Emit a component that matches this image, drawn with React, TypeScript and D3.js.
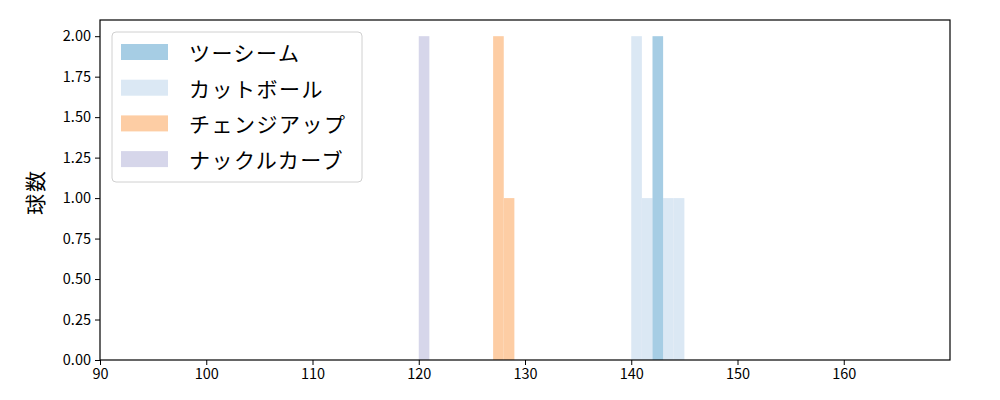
import { useEffect, useRef } from "react";
import * as d3 from "d3";

type Bin = { x0: number; x1: number; count: number };

const pitchNames = ["ツーシーム", "カットボール", "チェンジアップ", "ナックルカーブ"];
const pitchColors = ["#a6cde4", "#dbe8f4", "#fdcda4", "#d6d6ea"];

const twoSeamBins: Bin[] = [{ x0: 142, x1: 143, count: 2 }];
const cutBins: Bin[] = [
  { x0: 140, x1: 141, count: 2 },
  { x0: 141, x1: 142, count: 1 },
  { x0: 142, x1: 143, count: 1 },
  { x0: 143, x1: 144, count: 1 },
  { x0: 144, x1: 145, count: 1 },
];
const changeBins: Bin[] = [
  { x0: 127, x1: 128, count: 2 },
  { x0: 128, x1: 129, count: 1 },
];
const knuckleBins: Bin[] = [{ x0: 120, x1: 121, count: 2 }];

const xTicks = [90, 100, 110, 120, 130, 140, 150, 160];
const yTicks = [0, 0.25, 0.5, 0.75, 1, 1.25, 1.5, 1.75, 2];

const App = () => {
  const svgRef = useRef<SVGSVGElement | null>(null);

  useEffect(() => {
    if (!svgRef.current) return;
    const width = 1000;
    const height = 400;
    const margin = { top: 20, right: 50, bottom: 40, left: 100 };
    const innerWidth = width - margin.left - margin.right;
    const innerHeight = height - margin.top - margin.bottom;

    const svg = d3.select(svgRef.current);
    svg.selectAll("*").remove();

    const x = d3.scaleLinear().domain([90, 170]).range([0, innerWidth]);
    const y = d3.scaleLinear().domain([0, 2.1]).range([innerHeight, 0]);

    const g = svg
      .append("g")
      .attr("transform", `translate(${margin.left}, ${margin.top})`);

    // lighter series first, two-seam on top
    const series: [Bin[], string][] = [
      [cutBins, pitchColors[1]],
      [changeBins, pitchColors[2]],
      [knuckleBins, pitchColors[3]],
      [twoSeamBins, pitchColors[0]],
    ];
    series.forEach(([bins, color]) => {
      g.append("g")
        .selectAll("rect")
        .data(bins)
        .join("rect")
        .attr("x", (d) => x(d.x0))
        .attr("width", (d) => x(d.x1) - x(d.x0))
        .attr("y", (d) => y(d.count))
        .attr("height", (d) => y(0) - y(d.count))
        .attr("fill", color);
    });

    const font = "'Noto Sans CJK JP', sans-serif";

    g.append("g")
      .attr("transform", `translate(0, ${innerHeight})`)
      .call(d3.axisBottom(x).tickValues(xTicks).tickSize(5).tickPadding(4))
      .call((a) => a.select(".domain").remove())
      .call((a) => a.selectAll("text").attr("font-size", 14.5).attr("font-family", font).attr("fill", "#000"))
      .call((a) => a.selectAll("line").attr("stroke", "#000"));

    g.append("g")
      .call(
        d3.axisLeft(y).tickValues(yTicks).tickFormat(d3.format(".2f")).tickSize(5).tickPadding(4)
      )
      .call((a) => a.select(".domain").remove())
      .call((a) => a.selectAll("text").attr("font-size", 14.5).attr("font-family", font).attr("fill", "#000"))
      .call((a) => a.selectAll("line").attr("stroke", "#000"));

    g.append("rect")
      .attr("width", innerWidth)
      .attr("height", innerHeight)
      .attr("fill", "none")
      .attr("stroke", "#000")
      .attr("stroke-width", 1.2);

    svg
      .append("text")
      .attr("transform", `translate(34, ${margin.top + innerHeight / 2 + 2}) rotate(-90)`)
      .attr("text-anchor", "middle")
      .attr("dominant-baseline", "central")
      .attr("font-size", 21)
      .attr("letter-spacing", 2)
      .attr("font-family", font)
      .text("球数");

    const legend = g.append("g").attr("transform", "translate(12, 12)");
    legend
      .append("rect")
      .attr("width", 250)
      .attr("height", 150)
      .attr("rx", 4)
      .attr("fill", "#fff")
      .attr("fill-opacity", 0.8)
      .attr("stroke", "#d0d0d0");
    const rows = legend
      .selectAll("g.row")
      .data(pitchNames)
      .join("g")
      .attr("class", "row")
      .attr("transform", (_, i) => `translate(9, ${12 + i * 35.7})`);
    rows
      .append("rect")
      .attr("width", 47)
      .attr("height", 16)
      .attr("fill", (_, i) => pitchColors[i]);
    rows
      .append("text")
      .attr("x", 68)
      .attr("y", 8)
      .attr("dominant-baseline", "central")
      .attr("font-size", 21)
      .attr("letter-spacing", 1.5)
      .attr("font-family", font)
      .text((d) => d);
  }, []);

  return (
    <svg
      ref={svgRef}
      width={1000}
      height={400}
      style={{ position: "absolute", left: 0, top: 0 }}
    />
  );
};

export default App;
